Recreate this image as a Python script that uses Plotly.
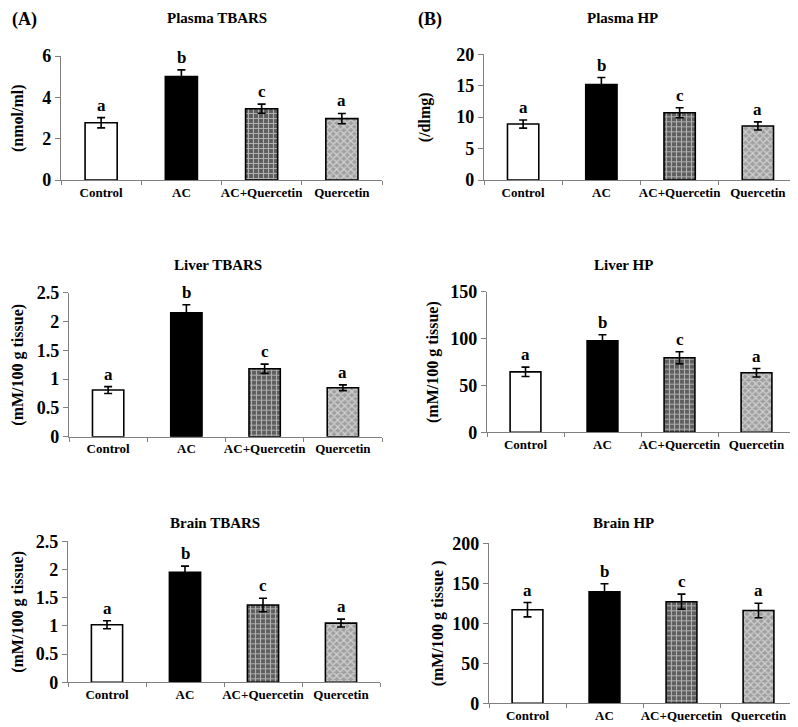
import plotly.graph_objects as go

categories = ["Control", "AC", "AC+Quercetin", "Quercetin"]
letters = ["a", "b", "c", "a"]

plasma_tbars = [2.77, 5.0, 3.45, 2.97]
plasma_tbars_err = [0.25, 0.33, 0.22, 0.25]
plasma_hp = [8.9, 15.2, 10.7, 8.6]
plasma_hp_err = [0.65, 1.1, 0.8, 0.65]
liver_tbars = [0.81, 2.15, 1.18, 0.85]
liver_tbars_err = [0.06, 0.14, 0.08, 0.05]
liver_hp = [64.5, 97.5, 79.5, 63.5]
liver_hp_err = [5.0, 6.5, 6.5, 4.5]
brain_tbars = [1.02, 1.95, 1.37, 1.05]
brain_tbars_err = [0.07, 0.11, 0.12, 0.07]
brain_hp = [117, 139.5, 127, 116]
brain_hp_err = [9, 10, 9.5, 9]

panels = [
    dict(title="Plasma TBARS", ytitle="(nmol/ml)", vals=plasma_tbars, err=plasma_tbars_err,
         rng=[0, 6], dtick=2, xd=[61, 382], yd=[56, 180], tx=217, ty=18, yt_x=18),
    dict(title="Plasma HP", ytitle="(/dlmg)", vals=plasma_hp, err=plasma_hp_err,
         rng=[0, 20], dtick=5, xd=[484, 797], yd=[54.3, 180], tx=622, ty=18, yt_x=425),
    dict(title="Liver TBARS", ytitle="(mM/100 g tissue)", vals=liver_tbars, err=liver_tbars_err,
         rng=[0, 2.5], dtick=0.5, xd=[69, 382], yd=[292.7, 436.7], tx=218, ty=265, yt_x=18),
    dict(title="Liver HP", ytitle="(mM/100 g tissue)", vals=liver_hp, err=liver_hp_err,
         rng=[0, 150], dtick=50, xd=[487, 795], yd=[291.7, 432.3], tx=623, ty=265, yt_x=433),
    dict(title="Brain TBARS", ytitle="(mM/100 g tissue)", vals=brain_tbars, err=brain_tbars_err,
         rng=[0, 2.5], dtick=0.5, xd=[68, 380], yd=[541.3, 682.3], tx=215, ty=523, yt_x=18),
    dict(title="Brain HP", ytitle="(mM/100 g tissue )", vals=brain_hp, err=brain_hp_err,
         rng=[0, 200], dtick=50, xd=[489, 797], yd=[543.3, 703.3], tx=623, ty=523, yt_x=438),
]

# page body has an 8px margin; the figure is sized and positioned to compensate
OFF = 8
W, H = 798 - OFF, 727 - OFF
FONT = "Liberation Serif, Times New Roman, serif"
AXC = "#808080"


def px(x):
    return (x - OFF) / W


def py(y):
    return 1 - (y - OFF) / H


bar_colors = ["white", "black", "#6a6a6a", "#a8a8a8"]
patterns = [
    dict(shape=""),
    dict(shape=""),
    dict(shape="+", fgcolor="#ffffff", bgcolor="#5e5e5e", size=5, solidity=0.4),
    dict(shape="x", fgcolor="#ffffff", bgcolor="#a0a0a0", size=5, solidity=0.45),
]

fig = go.Figure()
annotations = []
layout = {}

for i, p in enumerate(panels):
    n = i + 1
    xa = "x" if n == 1 else f"x{n}"
    ya = "y" if n == 1 else f"y{n}"
    for j, cat in enumerate(categories):
        fig.add_trace(go.Bar(
            x=[cat], y=[p["vals"][j]], xaxis=xa, yaxis=ya,
            width=0.4,
            marker=dict(color=bar_colors[j], line=dict(color="black", width=1.6),
                        pattern=patterns[j]),
            error_y=dict(type="data", array=[p["err"][j]], color="black",
                         thickness=1.6, width=4),
            showlegend=False, hoverinfo="skip",
        ))
        annotations.append(dict(
            x=cat, y=p["vals"][j] + p["err"][j], xref=xa, yref=ya,
            text=letters[j], showarrow=False, yanchor="bottom", yshift=1,
            font=dict(family=FONT, size=17, color="black", weight="bold"),
        ))
    layout[f"xaxis{'' if n == 1 else n}"] = dict(
        domain=[px(p["xd"][0]), px(p["xd"][1])],
        anchor=ya, type="category", categoryorder="array", categoryarray=categories,
        range=[-0.5, 3.5], showline=True, linecolor=AXC, linewidth=1.2,
        ticks="outside", tickson="boundaries", ticklen=4, tickcolor=AXC,
        tickangle=0, automargin=False,
        tickfont=dict(family=FONT, size=13, color="black", weight="bold"),
        showgrid=False, zeroline=False, fixedrange=True,
    )
    layout[f"yaxis{'' if n == 1 else n}"] = dict(
        domain=[py(p["yd"][1]), py(p["yd"][0])],
        anchor=xa, range=p["rng"], dtick=p["dtick"], tick0=0,
        showline=True, linecolor=AXC, linewidth=1.2,
        ticks="outside", ticklen=5, tickcolor=AXC, automargin=False,
        tickfont=dict(family=FONT, size=18, color="black", weight="bold"),
        showgrid=False, zeroline=False, fixedrange=True,
    )
    annotations.append(dict(
        x=px(p["tx"]), y=py(p["ty"]), xref="paper", yref="paper",
        text=p["title"], showarrow=False, xanchor="center", yanchor="middle",
        font=dict(family=FONT, size=15, color="black", weight="bold"),
    ))
    annotations.append(dict(
        x=px(p["yt_x"]), y=py((p["yd"][0] + p["yd"][1]) / 2), xref="paper", yref="paper",
        text=p["ytitle"], showarrow=False, textangle=-90, xanchor="center", yanchor="middle",
        font=dict(family=FONT, size=16, color="black", weight="bold"),
    ))

annotations.append(dict(x=px(24), y=py(19), xref="paper", yref="paper", text="(A)",
                        showarrow=False, xanchor="center", yanchor="middle",
                        font=dict(family=FONT, size=18, color="black", weight="bold")))
annotations.append(dict(x=px(430), y=py(19), xref="paper", yref="paper", text="(B)",
                        showarrow=False, xanchor="center", yanchor="middle",
                        font=dict(family=FONT, size=18, color="black", weight="bold")))

fig.update_layout(
    width=W, height=H, margin=dict(l=0, r=0, t=0, b=0, autoexpand=False),
    paper_bgcolor="white", plot_bgcolor="white",
    barmode="overlay", annotations=annotations, **layout,
)

fig.write_html("out.html")
